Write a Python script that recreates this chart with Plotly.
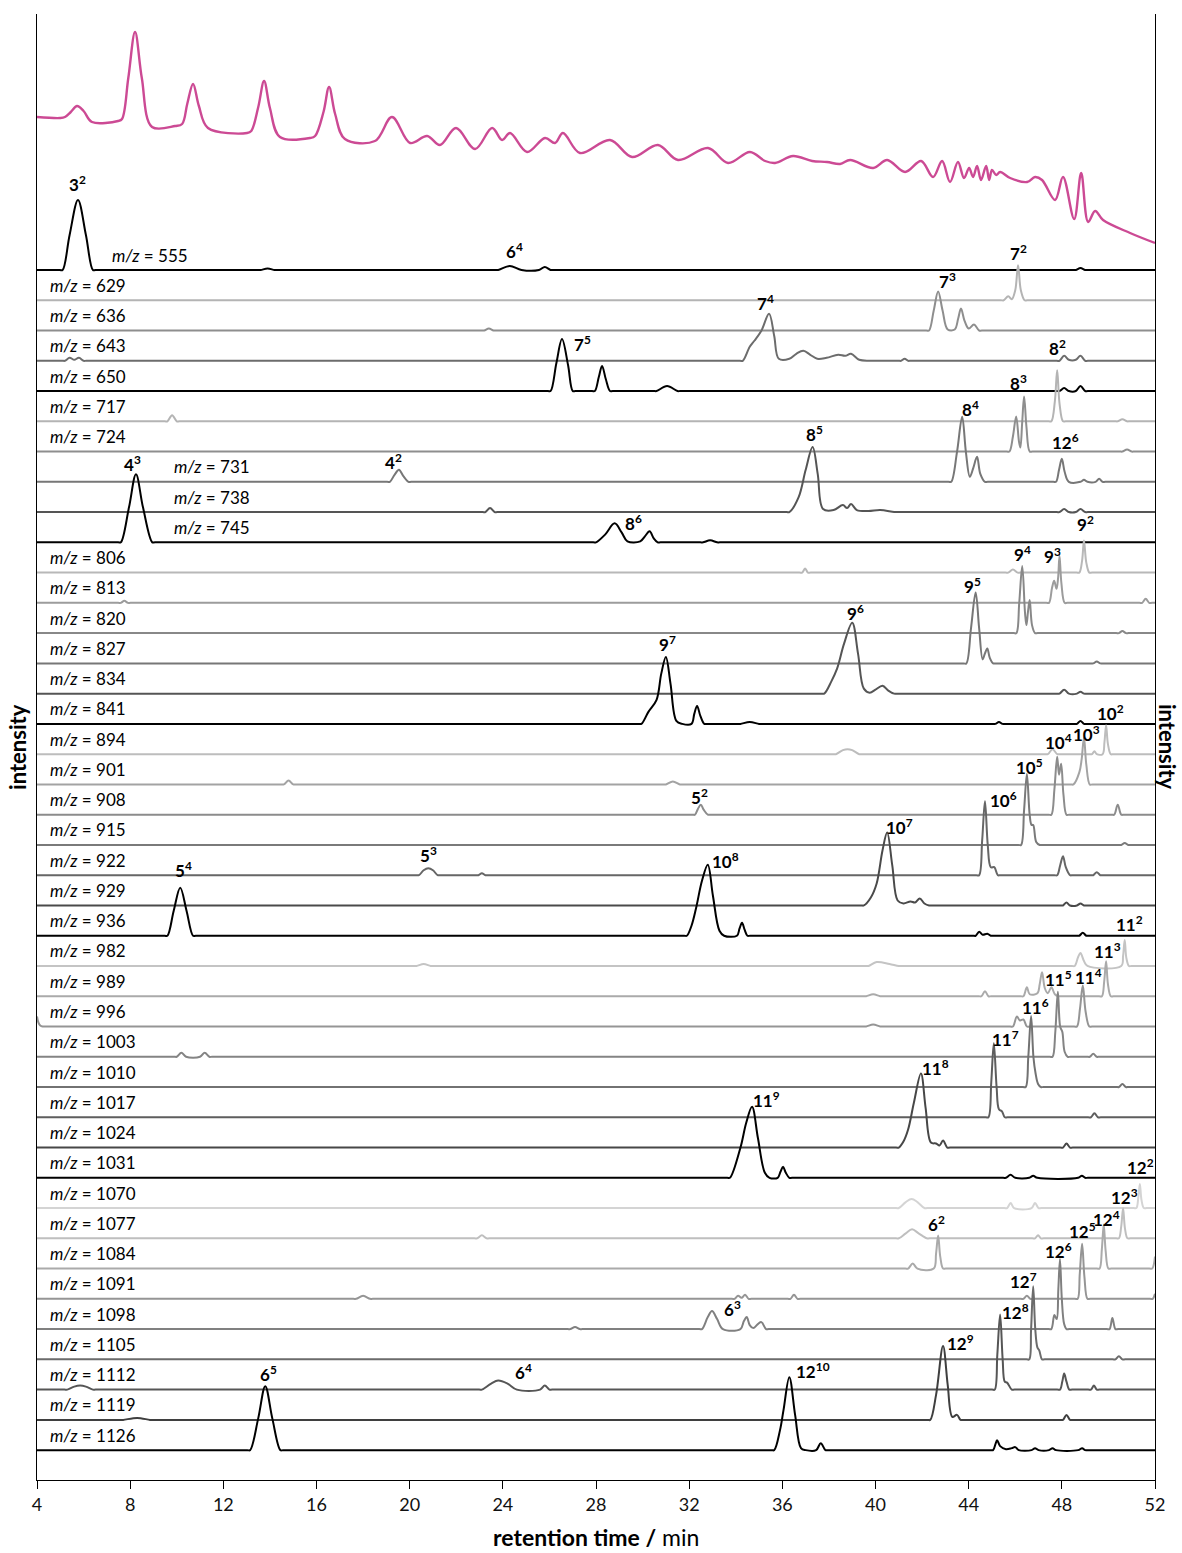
import plotly.graph_objects as go

# ---------------- data ----------------
MZ = [555, 629, 636, 643, 650, 717, 724, 731, 738, 745, 806, 813, 820, 827, 834, 841,
      894, 901, 908, 915, 922, 929, 936, 982, 989, 996, 1003, 1010, 1017, 1024, 1031,
      1070, 1077, 1084, 1091, 1098, 1105, 1112, 1119, 1126]

# total ion chromatogram (pink), (retention time, relative intensity)
PINK_T = [4.00, 4.99, 5.20, 5.45, 5.72, 6.0, 6.36, 7.48, 7.65, 7.92, 8.21, 8.5, 8.94, 9.93, 10.23,
          10.45, 10.70, 10.95, 11.34, 13.02, 13.2, 13.5, 13.75, 14.0, 14.43, 15.72, 15.94, 16.3,
          16.54, 16.8, 17.22, 18.51, 19.24, 20.02, 20.75, 21.30, 21.99, 22.81, 23.54, 23.97, 24.31,
          25.04, 25.81, 26.24, 26.58, 27.31, 28.60, 29.55, 30.66, 31.52, 32.81, 33.67, 34.61, 35.26,
          35.69, 36.46, 37.28, 37.92, 38.48, 38.91, 39.90, 40.50, 41.27, 41.96, 42.47, 42.86, 43.20,
          43.54, 43.80, 44.02, 44.19, 44.36, 44.53, 44.75, 44.88, 45.00, 45.18, 45.35, 45.78, 46.51,
          46.85, 47.15, 47.71, 48.05, 48.53, 48.83, 49.13, 49.43, 49.77, 50.93, 52.00]
PINK_I = [133, 132, 133, 138, 144, 139, 128, 129, 131, 172, 218, 172, 123, 124, 126,
          146, 166, 144, 122, 117, 119, 143, 169, 142, 113, 112, 114, 138,
          163, 136, 111, 109, 133, 107, 114, 105, 122, 101, 122, 110, 117,
          98, 112, 107, 117, 97, 110, 93, 105, 90, 102, 87, 98, 89,
          87, 94, 89, 88, 86, 90, 82, 90, 78, 89, 73, 89, 68,
          88, 72, 82, 73, 84, 70, 84, 70, 80, 75, 78, 72, 68,
          73, 70, 50, 73, 31, 77, 28, 39, 30, 17, 7]

# extracted ion chromatograms: (retention time, intensity)
P555 = [(4,0),(4.98,0),(5.1,0),(5.4,35),(5.76,70),(6.1,35),(6.4,0),(6.52,0),(13.48,0),(13.6,0),(13.9,1.5),(14.2,0),(14.32,0),(23.68,0),(23.8,0),(24.3,4),(24.8,0),(25.55,0),(25.8,3),(26.05,0),(26.17,0),(48.48,0),(48.6,0),(48.8,2),(49.0,0),(49.12,0),(52,0)]
P629 = [(4,0),(45.38,0),(45.5,0),(45.7,4),(45.85,1),(46.0,10),(46.12,35),(46.24,10),(46.4,0),(46.52,0),(52,0)]
P636 = [(4,0),(23.08,0),(23.2,0),(23.4,2),(23.6,0),(23.72,0),(42.18,0),(42.3,0),(42.5,20),(42.69,39),(42.88,20),(43.1,1),(43.4,1),(43.55,12),(43.67,22),(43.82,10),(44.0,2),(44.23,6),(44.45,0),(44.57,0),(52,0)]
P643 = [(4,0),(5.08,0),(5.2,0),(5.4,3),(5.6,1),(5.8,3),(6.0,0),(6.12,0),(34.18,0),(34.3,0),(34.6,14),(34.8,20),(35.1,30),(35.43,47),(35.65,25),(35.85,2),(36.3,2),(36.6,7),(36.9,10),(37.2,6),(37.5,2),(37.9,3),(38.4,6),(38.7,5),(38.95,7),(39.3,1),(39.7,0),(39.82,0),(40.98,0),(41.1,0),(41.25,2),(41.4,0),(41.52,0),(47.78,0),(47.9,0),(48.1,5),(48.3,1),(48.6,1),(48.8,5),(49.0,0),(49.12,0),(52,0)]
P650 = [(4,0),(25.93,0),(26.05,0),(26.3,28),(26.54,52),(26.8,26),(27.0,0),(27.12,0),(27.83,0),(27.95,0),(28.12,14),(28.26,25),(28.42,12),(28.6,0),(28.72,0),(30.48,0),(30.6,0),(31.05,5),(31.5,0),(31.62,0),(47.78,0),(47.9,0),(48.1,3),(48.3,0),(48.6,0),(48.8,5),(49.0,0),(49.12,0),(52,0)]
P717 = [(4,0),(9.48,0),(9.6,0),(9.8,6),(10.0,0),(10.12,0),(47.43,0),(47.55,0),(47.7,20),(47.8,51),(47.9,18),(48.05,0),(48.17,0),(50.28,0),(50.4,0),(50.6,2),(50.8,0),(50.92,0),(52,0)]
P724 = [(4,0),(45.63,0),(45.75,0),(45.9,15),(46.04,35),(46.16,10),(46.22,4),(46.3,30),(46.38,55),(46.48,25),(46.62,0),(46.74,0),(50.48,0),(50.6,0),(50.8,2),(51.0,0),(51.12,0),(52,0)]
P731 = [(4,0),(19.03,0),(19.15,0),(19.35,7),(19.54,12),(19.72,6),(19.95,0),(20.07,0),(43.13,0),(43.25,0),(43.5,30),(43.72,65),(43.88,30),(44.05,5),(44.2,14),(44.36,25),(44.5,8),(44.7,0),(44.82,0),(47.63,0),(47.75,0),(47.88,12),(48.0,23),(48.12,10),(48.3,0),(48.8,0),(48.95,2),(49.1,0),(49.45,0),(49.6,3),(49.75,0),(49.87,0),(52,0)]
P738 = [(4,0),(23.13,0),(23.25,0),(23.45,4),(23.65,0),(23.77,0),(36.18,0),(36.3,0),(36.7,15),(37.0,42),(37.3,65),(37.52,38),(37.75,3),(38.2,2),(38.6,7),(38.78,4),(38.95,8),(39.2,2),(39.7,1),(40.2,2),(40.8,0),(40.92,0),(47.78,0),(47.9,0),(48.1,3),(48.3,0),(48.6,0),(48.8,3),(49.0,0),(49.12,0),(52,0)]
P745 = [(4,0),(7.48,0),(7.6,0),(7.95,35),(8.25,68),(8.55,35),(8.95,0),(9.07,0),(27.88,0),(28.0,0),(28.4,8),(28.8,19),(29.1,10),(29.35,1),(29.9,1),(30.1,6),(30.3,11),(30.48,4),(30.65,0),(30.77,0),(32.48,0),(32.6,0),(32.9,2),(33.2,0),(33.32,0),(52,0)]
P806 = [(4,0),(36.73,0),(36.85,0),(36.98,4),(37.1,0),(37.22,0),(45.58,0),(45.7,0),(45.9,3),(46.1,0),(46.22,0),(48.63,0),(48.75,0),(48.87,12),(48.95,32),(49.05,10),(49.18,0),(49.3,0),(52,0)]
P813 = [(4,0),(7.48,0),(7.6,0),(7.75,2),(7.9,0),(8.02,0),(47.33,0),(47.45,0),(47.58,15),(47.67,22),(47.77,14),(47.84,25),(47.9,47),(47.98,20),(48.12,0),(48.24,0),(51.33,0),(51.45,0),(51.6,4),(51.75,0),(51.87,0),(52,0)]
P820 = [(4,0),(45.93,0),(46.05,0),(46.17,30),(46.3,67),(46.42,20),(46.48,8),(46.55,22),(46.62,33),(46.72,8),(46.85,0),(46.97,0),(50.33,0),(50.45,0),(50.6,2),(50.75,0),(50.87,0),(52,0)]
P827 = [(4,0),(43.78,0),(43.9,0),(44.1,35),(44.3,71),(44.45,35),(44.6,4),(44.7,10),(44.8,15),(44.9,6),(45.05,0),(45.17,0),(49.23,0),(49.35,0),(49.5,2),(49.65,0),(49.77,0),(52,0)]
P834 = [(4,0),(37.68,0),(37.8,0),(38.1,12),(38.35,25),(38.65,50),(39.0,71),(39.25,40),(39.5,5),(39.75,1),(40.0,4),(40.3,8),(40.55,3),(40.8,0),(40.92,0),(47.78,0),(47.9,0),(48.1,4),(48.3,0),(48.65,0),(48.8,2),(48.95,0),(49.07,0),(52,0)]
P841 = [(4,0),(29.83,0),(29.95,0),(30.25,12),(30.6,24),(30.8,50),(31.0,67),(31.2,40),(31.45,3),(31.7,0),(32.1,0),(32.22,10),(32.34,18),(32.48,8),(32.65,0),(32.77,0),(34.08,0),(34.2,0),(34.6,2),(35.0,0),(35.12,0),(45.03,0),(45.15,0),(45.3,2),(45.45,0),(45.57,0),(48.53,0),(48.65,0),(48.8,3),(48.95,0),(49.07,0),(52,0)]
P894 = [(4,0),(38.18,0),(38.3,0),(38.6,4),(38.8,5),(39.0,4),(39.3,0),(39.42,0),(47.28,0),(47.4,0),(47.6,5),(47.8,0),(47.92,0),(49.18,0),(49.3,0),(49.4,3),(49.5,0),(49.75,0),(49.83,12),(49.9,29),(49.98,10),(50.1,0),(50.22,0),(52,0)]
P901 = [(4,0),(14.48,0),(14.6,0),(14.8,4),(15.0,0),(15.12,0),(30.88,0),(31.0,0),(31.3,3),(31.6,0),(31.72,0),(48.38,0),(48.5,0),(48.75,12),(48.85,25),(48.95,47),(49.05,20),(49.2,0),(49.32,0),(52,0)]
P908 = [(4,0),(32.13,0),(32.25,0),(32.38,6),(32.5,10),(32.62,5),(32.8,0),(32.92,0),(47.43,0),(47.55,0),(47.68,25),(47.8,58),(47.88,40),(47.97,51),(48.07,20),(48.2,0),(48.32,0),(50.13,0),(50.25,0),(50.4,10),(50.55,0),(50.67,0),(52,0)]
P915 = [(4,0),(46.13,0),(46.25,0),(46.38,35),(46.5,71),(46.62,30),(46.7,20),(46.77,20),(46.9,3),(47.05,0),(47.17,0),(50.43,0),(50.55,0),(50.7,2),(50.85,0),(50.97,0),(52,0)]
P922 = [(4,0),(20.28,0),(20.4,0),(20.6,5),(20.8,7),(21.0,5),(21.2,0),(21.32,0),(22.83,0),(22.95,0),(23.1,2),(23.25,0),(23.37,0),(44.33,0),(44.45,0),(44.58,35),(44.7,74),(44.82,30),(44.95,8),(45.1,8),(45.25,0),(45.37,0),(47.68,0),(47.8,0),(47.93,10),(48.05,19),(48.17,8),(48.35,0),(48.47,0),(49.23,0),(49.35,0),(49.5,3),(49.65,0),(49.77,0),(52,0)]
P929 = [(4,0),(39.38,0),(39.5,0),(39.8,8),(40.05,22),(40.3,55),(40.5,73),(40.72,40),(40.95,5),(41.2,2),(41.5,4),(41.7,3),(41.9,7),(42.1,2),(42.3,0),(42.42,0),(47.93,0),(48.05,0),(48.2,3),(48.35,0),(48.65,0),(48.8,2),(48.95,0),(49.07,0),(52,0)]
P936 = [(4,0),(9.48,0),(9.6,0),(9.87,25),(10.15,48),(10.42,25),(10.7,0),(10.82,0),(31.78,0),(31.9,0),(32.1,10),(32.3,28),(32.55,55),(32.8,71),(33.02,40),(33.3,5),(33.5,0),(34.05,0),(34.16,7),(34.27,13),(34.38,6),(34.5,0),(34.62,0),(44.18,0),(44.3,0),(44.45,4),(44.6,1),(44.8,2),(44.95,0),(45.07,0),(48.63,0),(48.75,0),(48.9,3),(49.05,0),(49.17,0),(52,0)]
P982 = [(4,0),(20.18,0),(20.3,0),(20.6,2),(20.9,0),(21.02,0),(39.58,0),(39.7,0),(40.05,4),(40.6,2),(41.0,0),(41.12,0),(48.43,0),(48.55,0),(48.7,9),(48.8,13),(48.95,5),(49.1,0),(50.55,0),(50.63,10),(50.7,26),(50.77,8),(50.88,0),(51.0,0),(52,0)]
P989 = [(4,0),(39.48,0),(39.6,0),(39.9,2),(40.2,0),(40.32,0),(44.43,0),(44.55,0),(44.7,5),(44.85,0),(44.97,0),(46.23,0),(46.35,0),(46.5,9),(46.62,2),(46.95,3),(47.05,12),(47.15,24),(47.27,8),(47.4,3),(47.55,9),(47.7,2),(47.85,0),(47.97,0),(49.6,0),(49.72,0),(49.82,15),(49.9,35),(49.98,12),(50.1,0),(50.22,0),(52,0)]
P996 = [(4,10),(4.06,4),(4.14,1),(4.24,0),(4.36,0),(4.48,0),(39.48,0),(39.6,0),(39.9,2),(40.2,0),(40.32,0),(45.78,0),(45.9,0),(46.07,10),(46.2,6),(46.35,7),(46.5,0),(46.62,0),(48.53,0),(48.65,0),(48.78,18),(48.9,41),(49.02,15),(49.18,0),(49.3,0),(52,0)]
P1003 = [(4,0),(9.88,0),(10.0,0),(10.2,4),(10.4,0),(11.0,0),(11.2,4),(11.4,0),(11.52,0),(47.48,0),(47.6,0),(47.72,25),(47.83,65),(47.93,30),(48.02,25),(48.12,5),(48.25,0),(48.37,0),(49.08,0),(49.2,0),(49.35,3),(49.5,0),(49.62,0),(52,0)]
P1010 = [(4,0),(46.33,0),(46.45,0),(46.56,30),(46.68,71),(46.78,30),(46.87,14),(46.98,3),(47.1,0),(47.22,0),(50.33,0),(50.45,0),(50.6,3),(50.75,0),(50.87,0),(52,0)]
P1017 = [(4,0),(44.73,0),(44.85,0),(44.97,35),(45.08,74),(45.2,30),(45.3,8),(45.43,6),(45.55,0),(45.67,0),(49.13,0),(49.25,0),(49.4,4),(49.55,0),(49.67,0),(52,0)]
P1024 = [(4,0),(40.88,0),(41.0,0),(41.2,6),(41.4,18),(41.65,45),(41.95,74),(42.15,40),(42.38,5),(42.6,4),(42.75,2),(42.9,7),(43.08,0),(43.2,0),(47.93,0),(48.05,0),(48.2,4),(48.35,0),(48.47,0),(52,0)]
P1031 = [(4,0),(33.63,0),(33.75,0),(34.2,30),(34.45,55),(34.7,71),(34.95,40),(35.25,5),(35.45,0),(35.8,0),(35.92,6),(36.03,11),(36.15,5),(36.3,0),(36.42,0),(45.48,0),(45.6,0),(45.8,3),(46.0,0),(46.6,0),(46.77,2),(46.95,0),(48.7,0),(48.86,2),(49.0,0),(49.12,0),(52,0)]
P1070 = [(4,0),(40.88,0),(41.0,0),(41.3,6),(41.55,9),(41.8,6),(42.1,0),(42.22,0),(45.53,0),(45.65,0),(45.8,5),(45.95,0),(46.7,0),(46.85,5),(47.0,0),(47.12,0),(51.08,0),(51.2,0),(51.28,10),(51.35,24),(51.42,8),(51.52,0),(51.64,0),(52,0)]
P1077 = [(4,0),(22.78,0),(22.9,0),(23.1,3),(23.3,0),(23.42,0),(40.88,0),(41.0,0),(41.3,5),(41.57,9),(41.85,5),(42.2,0),(42.32,0),(46.73,0),(46.85,0),(46.98,3),(47.1,0),(47.22,0),(50.33,0),(50.45,0),(50.55,12),(50.63,30),(50.71,10),(50.82,0),(50.94,0),(52,0)]
P1084 = [(4,0),(41.28,0),(41.4,0),(41.6,5),(41.8,0),(42.5,0),(42.6,15),(42.69,33),(42.78,12),(42.9,0),(43.02,0),(49.5,0),(49.62,0),(49.72,20),(49.8,44),(49.88,18),(50.0,0),(50.12,0),(51.76,0),(51.88,0),(52,12)]
P1091 = [(4,0),(17.58,0),(17.7,0),(18.0,3),(18.3,0),(18.42,0),(33.83,0),(33.95,0),(34.1,3),(34.25,1),(34.4,4),(34.55,0),(34.67,0),(36.23,0),(36.35,0),(36.5,4),(36.65,0),(36.77,0),(46.23,0),(46.35,0),(46.5,3),(46.65,0),(46.77,0),(48.56,0),(48.68,0),(48.77,25),(48.87,55),(48.97,22),(49.1,0),(49.22,0),(51.78,0),(51.9,0),(52,5)]
P1098 = [(4,0),(26.78,0),(26.9,0),(27.1,2),(27.3,0),(27.42,0),(32.43,0),(32.55,0),(32.8,12),(32.98,18),(33.2,10),(33.45,0),(34.2,0),(34.35,8),(34.47,12),(34.6,4),(34.75,1),(34.95,5),(35.1,7),(35.3,0),(35.42,0),(47.43,0),(47.55,0),(47.68,14),(47.78,10),(47.85,40),(47.92,70),(48.0,30),(48.1,5),(48.2,0),(48.32,0),(49.93,0),(50.05,0),(50.17,11),(50.3,0),(50.42,0),(52,0)]
P1105 = [(4,0),(46.48,0),(46.6,0),(46.68,30),(46.77,73),(46.86,30),(46.95,12),(47.03,9),(47.15,0),(47.27,0),(50.18,0),(50.3,0),(50.45,3),(50.6,0),(50.72,0),(52,0)]
P1112 = [(4,0),(5.18,0),(5.3,0),(5.6,3),(5.85,4),(6.1,3),(6.4,0),(6.52,0),(22.98,0),(23.1,0),(23.5,6),(23.8,9),(24.2,6),(24.6,0),(25.6,0),(25.8,4),(26.0,0),(26.12,0),(45.0,0),(45.12,0),(45.23,35),(45.35,75),(45.46,30),(45.55,8),(45.65,7),(45.85,0),(45.97,0),(47.8,0),(47.92,0),(48.02,8),(48.1,16),(48.2,8),(48.32,0),(48.44,0),(49.13,0),(49.25,0),(49.38,4),(49.5,0),(49.62,0),(52,0)]
P1119 = [(4,0),(7.58,0),(7.7,0),(8.3,2),(8.85,0),(8.97,0),(42.23,0),(42.35,0),(42.6,25),(42.9,74),(43.1,35),(43.3,3),(43.5,5),(43.65,0),(43.77,0),(47.93,0),(48.05,0),(48.2,5),(48.35,0),(48.47,0),(52,0)]
P1126 = [(4,0),(13.03,0),(13.15,0),(13.5,32),(13.8,64),(14.1,32),(14.45,0),(14.57,0),(35.53,0),(35.65,0),(35.9,20),(36.05,40),(36.3,73),(36.55,35),(36.8,2),(37.0,0),(37.45,0),(37.65,7),(37.85,0),(37.97,0),(44.93,0),(45.05,0),(45.15,6),(45.22,10),(45.35,4),(45.6,1),(45.85,2),(46.0,3),(46.15,0),(46.7,0),(46.85,2),(47.0,0),(47.45,0),(47.6,2),(47.75,0),(48.7,0),(48.87,2),(49.0,0),(49.12,0),(52,0)]

# peak labels: compound number, superscript, trace (m/z), retention time, label height
LBL_N = [3, 6, 7, 7, 7, 7, 8, 8, 8, 12, 8, 4, 4, 8, 9, 9, 9, 9, 9, 9, 10, 10, 10, 10, 5, 10, 10, 5, 10, 5,
         11, 11, 11, 11, 11, 11, 11, 11, 12, 12, 12, 6, 12, 12, 12, 12, 12, 6, 6, 12, 6]
LBL_SUP = [2, 4, 2, 3, 4, 5, 2, 3, 4, 6, 5, 2, 3, 6, 2, 4, 3, 5, 6, 7, 2, 4, 3, 5, 2, 6, 7, 3, 8, 4,
           2, 3, 5, 4, 6, 7, 8, 9, 2, 3, 4, 2, 5, 6, 7, 8, 9, 3, 4, 10, 5]
LBL_MZ = [555, 555, 629, 636, 643, 650, 717, 724, 731, 731, 738, 731, 745, 745, 806, 820, 813, 827, 834, 841,
          894, 908, 901, 915, 908, 922, 929, 922, 936, 936,
          982, 989, 1003, 996, 1010, 1017, 1024, 1031, 1070, 1077, 1084, 1084, 1091, 1098, 1105, 1112, 1119,
          1098, 1112, 1126, 1126]
LBL_T = [5.76, 24.5, 46.12, 43.1, 35.26, 27.44, 47.8, 46.12, 44.06, 48.14, 37.4, 19.3, 8.12, 29.6, 49.0, 46.3,
         47.62, 44.15, 39.12, 31.05, 50.07, 47.84, 49.08, 46.63, 32.43, 45.48, 41.05, 20.8, 33.58, 10.27,
         50.9, 49.98, 47.85, 49.15, 46.85, 45.6, 42.56, 35.3, 51.36, 50.7, 49.92, 42.64, 48.9, 47.84, 46.34,
         45.99, 43.63, 33.88, 24.87, 37.3, 13.92]
LBL_H = [87, 20, 48, 50, 58, 48, 74, 69, 73, 40, 79, 20, 79, 20, 49, 80, 47, 78, 81, 80, 42, 73, 51, 78, 18,
         76, 79, 21, 75, 66, 42, 46, 78, 50, 81, 79, 80, 78, 42, 42, 50, 45, 68, 79, 79, 78, 77, 21, 18, 80, 77]

X_TICKS = [4, 8, 12, 16, 20, 24, 28, 32, 36, 40, 44, 48, 52]

# ---------------- styling / layout ----------------
TRACES = [P555, P629, P636, P643, P650, P717, P724, P731, P738, P745, P806, P813, P820, P827, P834, P841,
          P894, P901, P908, P915, P922, P929, P936, P982, P989, P996, P1003, P1010, P1017, P1024, P1031,
          P1070, P1077, P1084, P1091, P1098, P1105, P1112, P1119, P1126]
COLORS = ['#000000',
          '#b4b4b4', '#8e8e8e', '#6c6c6c', '#000000',
          '#b4b4b4', '#8e8e8e', '#777777', '#555555', '#000000',
          '#b8b8b8', '#9c9c9c', '#888888', '#777777', '#555555', '#000000',
          '#bdbdbd', '#a3a3a3', '#8c8c8c', '#7a7a7a', '#666666', '#4a4a4a', '#000000',
          '#c4c4c4', '#aaaaaa', '#959595', '#848484', '#727272', '#5e5e5e', '#474747', '#000000',
          '#d4d4d4', '#bfbfbf', '#aaaaaa', '#959595', '#808080', '#6b6b6b', '#565656', '#3f3f3f', '#000000']
LABEL_X = {555: 7.13, 731: 9.8, 738: 9.8, 745: 9.8}

BASE0 = 1210.0
STEP = 30.26
PINK_OFF = 1230.0
FONT = 'Lato'

fig = go.Figure()

fig.add_trace(go.Scatter(x=PINK_T, y=[PINK_OFF + v for v in PINK_I], mode='lines',
                         line=dict(color='#cc4a94', width=2.4, shape='spline', smoothing=1.0),
                         hoverinfo='skip', showlegend=False))

offsets = {}
for i, (mz, pts) in enumerate(zip(MZ, TRACES)):
    off = BASE0 - STEP * i
    offsets[mz] = off
    fig.add_trace(go.Scatter(x=[p[0] for p in pts], y=[off + p[1] for p in pts], mode='lines',
                             line=dict(color=COLORS[i], width=2, shape='spline', smoothing=1.0),
                             hoverinfo='skip', showlegend=False))

annotations = []
for mz in MZ:
    annotations.append(dict(x=LABEL_X.get(mz, 4.47), y=offsets[mz] + 15, xref='x', yref='y',
                            text='<i>m/z</i> = %d' % mz, showarrow=False, xanchor='left',
                            yanchor='middle', font=dict(family=FONT, size=17, color='#000')))
for n, s, mz, t, h in zip(LBL_N, LBL_SUP, LBL_MZ, LBL_T, LBL_H):
    annotations.append(dict(x=t, y=offsets[mz] + h, xref='x', yref='y',
                            text='<b>%d<sup>%d</sup></b>' % (n, s), showarrow=False,
                            xanchor='center', yanchor='middle', borderpad=0,
                            font=dict(family=FONT, size=17, color='#000')))

annotations.append(dict(x=0.5, y=-0.0389, xref='paper', yref='paper',
                        text='<b>retention time /</b> min', showarrow=False,
                        xanchor='center', yanchor='middle', borderpad=0,
                        font=dict(family=FONT, size=23, color='#000')))
annotations.append(dict(x=-0.018, y=0.5, xref='paper', yref='paper', text='<b>intensity</b>',
                        textangle=-90, showarrow=False, xanchor='center', yanchor='middle', borderpad=0,
                        font=dict(family=FONT, size=22, color='#000')))
annotations.append(dict(x=1.0116, y=0.5, xref='paper', yref='paper', text='<b>intensity</b>',
                        textangle=90, showarrow=False, xanchor='center', yanchor='middle', borderpad=0,
                        font=dict(family=FONT, size=22, color='#000')))

fig.update_layout(
    width=1182, height=1553,
    margin=dict(l=37, r=27, t=14, b=73),
    paper_bgcolor='white', plot_bgcolor='white',
    annotations=annotations,
    xaxis=dict(range=[4, 52], tickvals=X_TICKS, ticktext=[str(v) for v in X_TICKS],
               ticks='outside', ticklen=8, tickwidth=1, tickcolor='#000',
               showline=True, linecolor='#000', linewidth=1.3, showgrid=False, zeroline=False,
               tickfont=dict(family=FONT, size=18, color='#111')),
    yaxis=dict(range=[0, 1466], showline=True, mirror=True, linecolor='#000', linewidth=1.3,
               showticklabels=False, ticks='', showgrid=False, zeroline=False),
)

fig.write_html('out.html')
